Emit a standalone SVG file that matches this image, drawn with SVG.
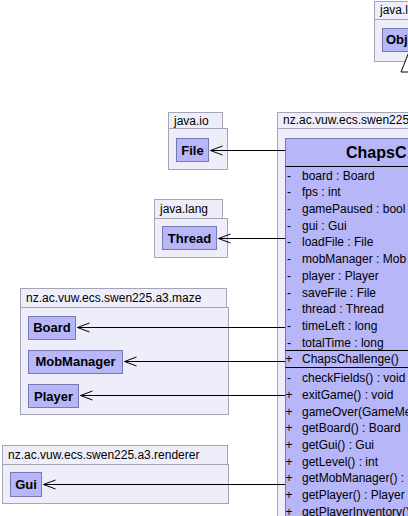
<svg xmlns="http://www.w3.org/2000/svg" width="408" height="516" viewBox="0 0 408 516">
<defs>
<style>
.pkg{fill:#EEEEFA;stroke:#A4A4B4;stroke-width:1}
.cls{fill:#B6B6F8;stroke:#7878B0;stroke-width:1}
.sep{stroke:#000;stroke-width:1}
.pt{font-family:"Liberation Sans",Arial,sans-serif;font-size:12px;fill:#000}
.cn{font-family:"Liberation Sans",Arial,sans-serif;font-size:13px;font-weight:bold;fill:#000;text-anchor:middle}
.hn{font-family:"Liberation Sans",Arial,sans-serif;font-size:16px;font-weight:bold;fill:#000}
.m{font-family:"Liberation Sans",Arial,sans-serif;font-size:12px;fill:#000}
.v{font-family:"Liberation Sans",Arial,sans-serif;font-size:12px;fill:#000;text-anchor:middle}
.ln{stroke:#000;stroke-width:1;fill:none}
</style>
<marker id="open" markerUnits="userSpaceOnUse" markerWidth="16" markerHeight="12" viewBox="-13 -6 14 12" refX="0" refY="0" orient="auto">
<path d="M-12,-4.5 L0,0 L-12,4.5" fill="none" stroke="#000" stroke-width="1"/>
</marker>
</defs>

<g id="pkg-java-lang-top">
<rect class="pkg" x="374.5" y="1.5" width="60" height="18"/>
<rect class="pkg" x="374.5" y="19.5" width="60" height="42"/>
<text class="pt" x="380" y="14.3">java.l</text>
</g>
<g id="Object">
<rect class="cls" x="382.5" y="28.5" width="60" height="23"/>
<text class="cn" x="386" y="44" style="text-anchor:start">Obj</text>
</g>

<g id="pkg-java-io">
<rect class="pkg" x="168.5" y="112.5" width="54" height="16"/>
<rect class="pkg" x="168.5" y="128.5" width="59" height="41"/>
<text class="pt" x="174" y="124.8">java.io</text>
</g>
<g id="File">
<rect class="cls" x="176.5" y="138.5" width="32" height="23"/>
<text class="cn" x="192.5" y="154.7">File</text>
</g>

<g id="pkg-java-lang">
<rect class="pkg" x="154.5" y="199.5" width="68" height="19"/>
<rect class="pkg" x="154.5" y="218.5" width="73" height="39"/>
<text class="pt" x="160" y="212.8">java.lang</text>
</g>
<g id="Thread">
<rect class="cls" x="162.5" y="226.5" width="54" height="23"/>
<text class="cn" x="189.5" y="242.7">Thread</text>
</g>

<g id="pkg-maze">
<rect class="pkg" x="20.5" y="288.5" width="206" height="19"/>
<rect class="pkg" x="20.5" y="307.5" width="208" height="107"/>
<text class="pt" x="26" y="301.8">nz.ac.vuw.ecs.swen225.a3.maze</text>
</g>
<g id="Board">
<rect class="cls" x="28.5" y="316.5" width="47" height="23"/>
<text class="cn" x="52" y="332.2">Board</text>
</g>
<g id="MobManager">
<rect class="cls" x="28.5" y="350.5" width="94" height="23"/>
<text class="cn" x="75.5" y="366.2">MobManager</text>
</g>
<g id="Player">
<rect class="cls" x="28.5" y="384.5" width="50" height="23"/>
<text class="cn" x="53.5" y="400.6">Player</text>
</g>

<g id="pkg-renderer">
<rect class="pkg" x="2.5" y="445.5" width="225" height="19"/>
<rect class="pkg" x="2.5" y="464.5" width="226" height="39"/>
<text class="pt" x="8" y="458.8">nz.ac.vuw.ecs.swen225.a3.renderer</text>
</g>
<g id="Gui">
<rect class="cls" x="10.5" y="472.5" width="31" height="24"/>
<text class="cn" x="26" y="489">Gui</text>
</g>

<g id="pkg-swen225">
<rect class="pkg" x="277.5" y="112.5" width="200" height="16"/>
<rect class="pkg" x="277.5" y="128.5" width="200" height="420"/>
<text class="pt" x="283" y="124.3">nz.ac.vuw.ecs.swen225</text>
</g>
<g id="ChapsChallenge">
<rect class="cls" x="285.5" y="138.5" width="250" height="420"/>
<line class="sep" x1="285.5" y1="166.5" x2="535.5" y2="166.5"/>
<line class="sep" x1="285.5" y1="350.5" x2="535.5" y2="350.5"/>
<line class="sep" x1="285.5" y1="367.5" x2="535.5" y2="367.5"/>
<text class="hn" x="346" y="157.7">ChapsC</text>
<text class="v" x="289" y="179.6">-</text><text class="m" x="302" y="179.6">board : Board</text>
<text class="v" x="289" y="196.3">-</text><text class="m" x="302" y="196.3">fps : int</text>
<text class="v" x="289" y="213">-</text><text class="m" x="302" y="213">gamePaused : bool</text>
<text class="v" x="289" y="229.7">-</text><text class="m" x="302" y="229.7">gui : Gui</text>
<text class="v" x="289" y="246.4">-</text><text class="m" x="302" y="246.4">loadFile : File</text>
<text class="v" x="289" y="263.1">-</text><text class="m" x="302" y="263.1">mobManager : Mob</text>
<text class="v" x="289" y="279.8">-</text><text class="m" x="302" y="279.8">player : Player</text>
<text class="v" x="289" y="296.5">-</text><text class="m" x="302" y="296.5">saveFile : File</text>
<text class="v" x="289" y="313.2">-</text><text class="m" x="302" y="313.2">thread : Thread</text>
<text class="v" x="289" y="329.9">-</text><text class="m" x="302" y="329.9">timeLeft : long</text>
<text class="v" x="289" y="346.6">-</text><text class="m" x="302" y="346.6">totalTime : long</text>
<text class="v" x="289" y="362.8">+</text><text class="m" x="302" y="362.8">ChapsChallenge()</text>
<text class="v" x="289" y="382.3">-</text><text class="m" x="302" y="382.3">checkFields() : void</text>
<text class="v" x="289" y="399">+</text><text class="m" x="302" y="399">exitGame() : void</text>
<text class="v" x="289" y="415.6">+</text><text class="m" x="302" y="415.6">gameOver(GameMe</text>
<text class="v" x="289" y="432.3">+</text><text class="m" x="302" y="432.3">getBoard() : Board</text>
<text class="v" x="289" y="449">+</text><text class="m" x="302" y="449">getGui() : Gui</text>
<text class="v" x="289" y="465.6">+</text><text class="m" x="302" y="465.6">getLevel() : int</text>
<text class="v" x="289" y="482.3">+</text><text class="m" x="302" y="482.3">getMobManager() : </text>
<text class="v" x="289" y="499">+</text><text class="m" x="302" y="499">getPlayer() : Player</text>
<text class="v" x="289" y="515.6">+</text><text class="m" x="302" y="515.6">getPlayerInventory()</text>
</g>

<g id="connectors">
<line class="ln" x1="285" y1="150.5" x2="210.5" y2="150.5" marker-end="url(#open)"/>
<line class="ln" x1="285" y1="238.5" x2="218.5" y2="238.5" marker-end="url(#open)"/>
<line class="ln" x1="285" y1="327.5" x2="77.5" y2="327.5" marker-end="url(#open)"/>
<line class="ln" x1="285" y1="361.5" x2="124.5" y2="361.5" marker-end="url(#open)"/>
<line class="ln" x1="285" y1="395.5" x2="80.5" y2="395.5" marker-end="url(#open)"/>
<line class="ln" x1="285" y1="484.5" x2="43.5" y2="484.5" marker-end="url(#open)"/>
<line class="ln" x1="409" y1="72" x2="409" y2="138"/>
<polygon points="409,52 401,72 417,72" fill="#fff" stroke="#000" stroke-width="1"/>
</g>
</svg>
